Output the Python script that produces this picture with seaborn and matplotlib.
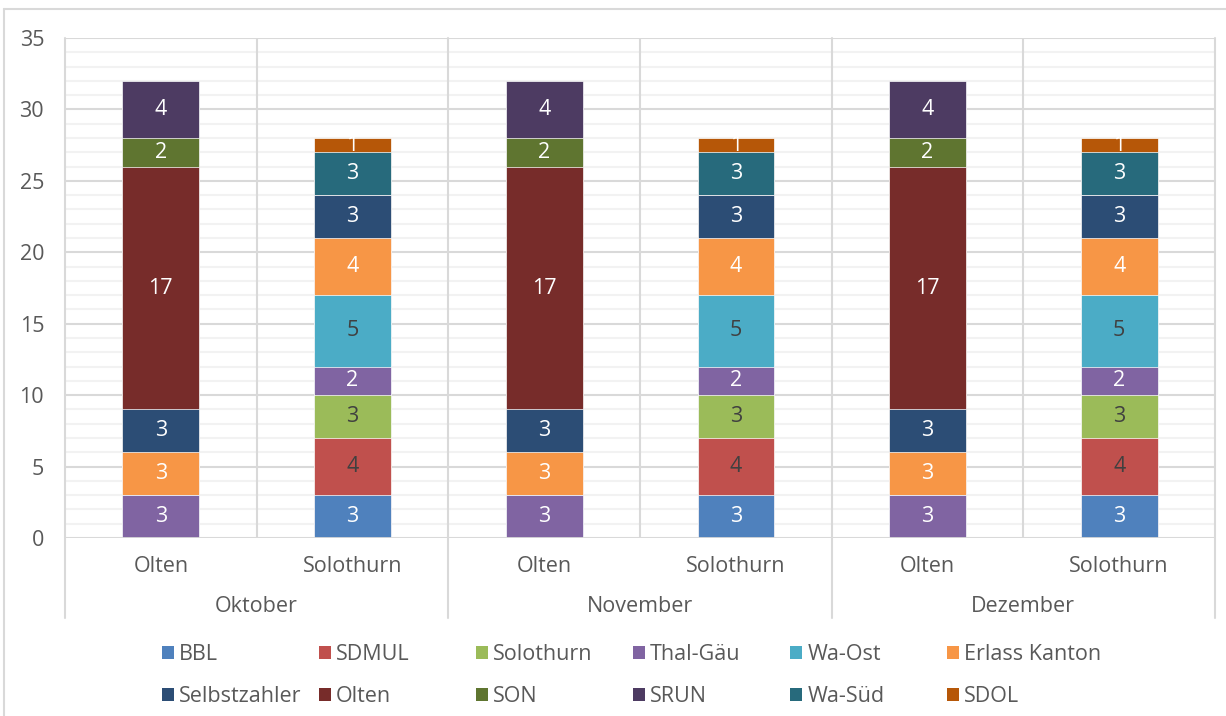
import pandas as pd
import matplotlib
matplotlib.use("Agg")
import matplotlib.pyplot as plt
import matplotlib.transforms as mtransforms
from matplotlib.patches import Patch
from matplotlib.lines import Line2D
from matplotlib.ticker import MultipleLocator
import seaborn as sns

# --- DATA ---
months = ["Oktober", "November", "Dezember"]
locations = ["Olten", "Solothurn"]
series = ["BBL", "SDMUL", "Solothurn", "Thal-Gäu", "Wa-Ost", "Erlass Kanton",
          "Selbstzahler", "Olten", "SON", "SRUN", "Wa-Süd", "SDOL"]
colors = ["#4F81BD", "#C0504D", "#9BBB59", "#8064A2", "#4BACC6", "#F79646",
          "#2C4D75", "#772C2A", "#5F7530", "#4D3B62", "#276A7C", "#B65708"]
# same values in every month
olten_values = [0, 0, 0, 3, 0, 3, 3, 17, 2, 4, 0, 0]
solothurn_values = [3, 4, 3, 2, 5, 4, 3, 0, 0, 0, 3, 1]
dark_label_series = ["SDMUL", "Solothurn", "Wa-Ost"]

TEXT = "#595959"
GRID = "#d9d9d9"
MINOR = "#f2f2f2"
FS = 15.5

# --- TABLE ---
rows = []
slots = []
for m in months:
    for loc, vals in zip(locations, [olten_values, solothurn_values]):
        slot = f"{m}|{loc}"
        slots.append(slot)
        top = 0
        for s, v in zip(series, vals):
            top += v
            rows.append({"slot": slot, "series": s, "value": v, "top": top})
df = pd.DataFrame(rows)

# --- PLOT ---
sns.set_theme(style="white")
plt.rcParams["font.family"] = ["Open Sans", "DejaVu Sans"]

W, H = 1226, 716
fig = plt.figure(figsize=(W / 100, H / 100), dpi=100)
ax_left, ax_right, ax_top, ax_bottom = 65, 1215, 38, 538
ax = fig.add_axes([ax_left / W, 1 - ax_bottom / H,
                   (ax_right - ax_left) / W, (ax_bottom - ax_top) / H])

# stacked bars: draw cumulative tops from the last series down to the first
for s, c in reversed(list(zip(series, colors))):
    sub = df[df["series"] == s]
    sns.barplot(data=sub, x="slot", y="top", order=slots, color=c,
                saturation=1, width=0.4, errorbar=None,
                edgecolor="white", linewidth=0.5, ax=ax, zorder=3)

# data labels
slot_index = {s: i for i, s in enumerate(slots)}
for _, r in df[df["value"] > 0].iterrows():
    col = "#404040" if r["series"] in dark_label_series else "white"
    ax.text(slot_index[r["slot"]], r["top"] - r["value"] / 2, str(r["value"]),
            ha="center", va="center", color=col, fontsize=FS, zorder=5)

ax.set_xlim(-0.5, len(slots) - 0.5)
ax.set_ylim(0, 35)
ax.yaxis.set_major_locator(MultipleLocator(5))
ax.yaxis.set_minor_locator(MultipleLocator(1))
ax.grid(which="major", axis="y", color=GRID, linewidth=1.5, zorder=0)
ax.grid(which="minor", axis="y", color=MINOR, linewidth=1.5, zorder=0)
ax.grid(which="major", axis="x", visible=False)
ax.set_axisbelow(True)
for sp in ax.spines.values():
    sp.set_visible(False)

ax.set_xticks(range(len(slots)))
ax.set_xticklabels(locations * len(months))
ax.tick_params(axis="x", length=0, pad=13, labelsize=FS, labelcolor=TEXT)
ax.tick_params(axis="y", which="both", length=0, pad=15, labelsize=FS, labelcolor=TEXT)
ax.set_xlabel("")
ax.set_ylabel("")

# category separators
ax.axhline(0, color=GRID, linewidth=2, zorder=4)
for x in [0.5, 2.5, 4.5]:
    ax.axvline(x, color=GRID, linewidth=1.5, zorder=1)
trans = mtransforms.blended_transform_factory(ax.transData, ax.transAxes)
y_low = (ax_bottom - 618) / (ax_bottom - ax_top)
for x in [-0.5, 1.5, 3.5, 5.5]:
    ax.add_line(Line2D([x, x], [y_low, 1], transform=trans, color=GRID,
                       linewidth=1.5, clip_on=False, zorder=1))
y_month = (ax_bottom - 607) / (ax_bottom - ax_top)
for i, m in enumerate(months):
    ax.text(2 * i + 0.5, y_month, m, transform=trans, ha="center", va="center",
            fontsize=FS, color=TEXT)

# legend: 6 columns x 2 rows, fixed spacing like the original
col_x = [162, 319, 476, 633, 790, 947]
row_y = [655, 697]
for k, (s, c) in enumerate(zip(series, colors)):
    x = col_x[k % 6]
    y = row_y[k // 6]
    fig.legend(handles=[Patch(facecolor=c, edgecolor="none")], labels=[s],
               loc="center left", bbox_to_anchor=(x / W, 1 - y / H),
               frameon=False, borderpad=0, borderaxespad=0,
               handlelength=0.55, handleheight=0.55, handletextpad=0.25,
               prop={"size": FS}, labelcolor=TEXT)

# chart border
fig.add_artist(Line2D([4 / W, 4 / W], [0, 1 - 9 / H], transform=fig.transFigure,
                      color=GRID, linewidth=1.5))
fig.add_artist(Line2D([4 / W, 1], [1 - 9 / H, 1 - 9 / H], transform=fig.transFigure,
                      color=GRID, linewidth=1.5))

fig.savefig("out.png", dpi=100)
